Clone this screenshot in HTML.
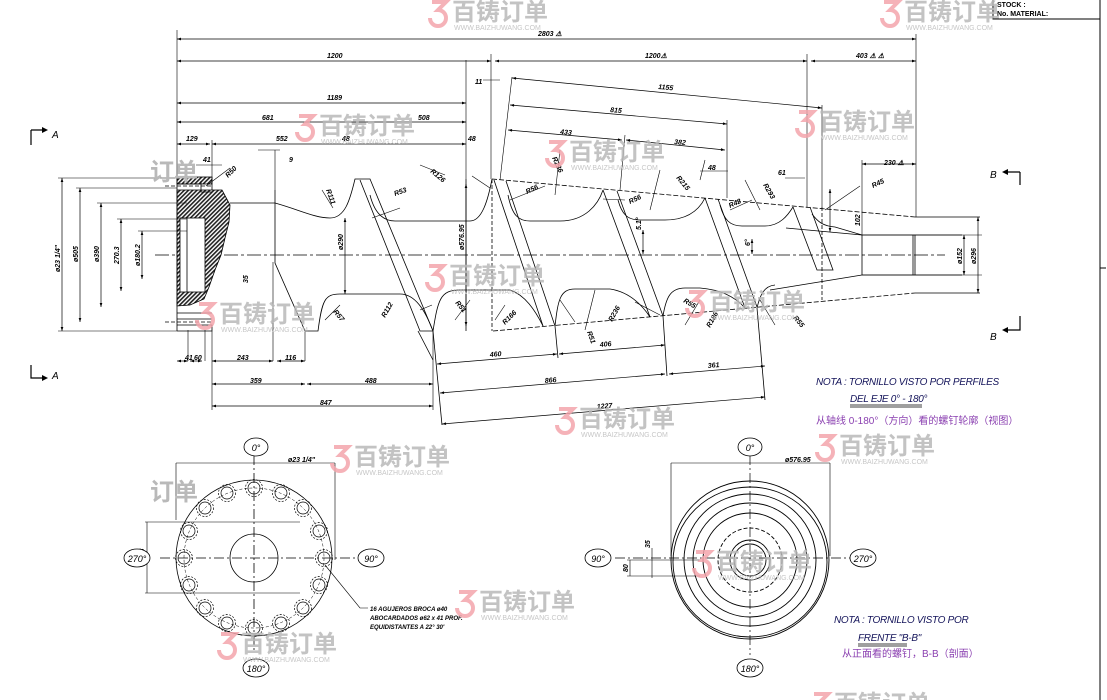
<!DOCTYPE html>
<html><head><meta charset="utf-8"><style>
html,body{margin:0;padding:0;background:#fff;width:1107px;height:700px;overflow:hidden}
svg{display:block}
.d{font-family:"Liberation Sans",sans-serif;font-size:7px;font-style:italic;font-weight:bold;fill:#000}
.n{font-family:"Liberation Sans",sans-serif;font-size:10px;font-style:italic;fill:#14145a;letter-spacing:-0.3px}
.cn{font-family:"Liberation Sans","Noto Sans CJK SC",sans-serif;font-size:10px;fill:#8a3fb0}
.wm{font-family:"Liberation Sans","Noto Sans CJK SC",sans-serif;font-size:24px;font-weight:bold;fill:#b9b9b9}
.wu{font-family:"Liberation Sans",sans-serif;font-size:7px;fill:#bdbdbd}
.lab{font-family:"Liberation Sans",sans-serif;font-size:10px;font-style:italic;fill:#000}
</style></head><body>
<svg width="1107" height="700" viewBox="0 0 1107 700" xmlns="http://www.w3.org/2000/svg">
<defs>
<pattern id="h" width="3" height="3" patternUnits="userSpaceOnUse" patternTransform="rotate(45)"><rect width="3" height="3" fill="#fff"/><rect width="1.6" height="3" fill="#222"/></pattern>
<marker id="a" markerWidth="6" markerHeight="4" refX="6" refY="2" orient="auto-start-reverse"><path d="M0,0L6,2L0,4z" fill="#000"/></marker>
<g id="w"><path d="M4,4 h14 l-8,8 a8,8 0 1 1 -8,8" fill="none" stroke="#f4a5ac" stroke-width="4"/><text class="wm" x="24" y="22">百铸订单</text><text class="wu" x="26" y="32">WWW.BAIZHUWANG.COM</text></g>
</defs>

<!-- title block -->
<g stroke="#000" stroke-width="1" fill="none"><path d="M993,0V19H1100M1100,0V700"/></g>
<text x="997" y="7" class="d" style="font-style:normal;font-size:7px">STOCK :</text>
<text x="997" y="16" class="d" style="font-style:normal;font-size:7px">No. MATERIAL:</text>
<path d="M1100,268h6" stroke="#000"/>

<g stroke="#000" stroke-width="0.8" fill="none">
<!-- centerline -->
<path d="M155,255H945" stroke-dasharray="14,3,3,3"/>
<!-- flange -->
<rect x="177" y="177" width="35" height="7" fill="url(#h)"/>
<path d="M177,190H222L230,205L229,222L225,238L221,255L215,270L209,287L204,299L190,305L177,306Z" fill="url(#h)"/>
<rect x="180" y="218" width="25" height="74" fill="#fff"/>
<path d="M177,177V331M212,177V190M201,181V192H212M187,218V292M177,325H212V331H177M177,184H200M177,313H212M177,319H212" />
<path d="M165,186H212M165,322H212" stroke-dasharray="4,2"/>
<!-- shaft outline top -->
<path d="M230,203H275C300,210 315,218 330,218C345,218 350,200 355,179H370L433,331"/>
<path d="M360,180L420,331H433"/>
<path d="M370,195C375,215 385,221 395,221H470C482,221 488,200 492,179"/>
<path d="M275,190V263L305,331H318C322,300 325,294 340,294H400C415,294 425,310 433,331"/>
<path d="M433,331C438,300 440,290 460,290H510C525,295 535,310 543,326"/>
<!-- flights -->
<path d="M494,180L543,326M506,181L555,326"/>
<path d="M603,190L650,317M617,191L663,316"/>
<path d="M705,198L745,308M718,199L757,307"/>
<path d="M793,207L817,270H833L810,207"/>
<!-- top roots -->
<path d="M508,195C512,215 518,221 530,221H560C585,221 598,205 603,190"/>
<path d="M618,200C622,215 628,220 640,220H665C690,220 700,208 705,198"/>
<path d="M720,205C724,220 730,226 742,226H765C780,226 788,215 793,207"/>
<path d="M812,214C818,222 823,226 835,227L862,235"/>
<path d="M786,228L862,235"/>
<path d="M862,275L770,290"/>
<!-- bottom roots -->
<path d="M555,326C558,300 560,289 575,289H610C630,292 642,305 650,317"/>
<path d="M663,316C666,298 670,288 685,288H700C725,290 738,300 745,308"/>
<path d="M757,308C760,295 764,286 775,285"/>
<!-- crest lines dashed -->
<path d="M492,179L915,217M493,331L915,293" stroke-dasharray="5,2"/>
<path d="M492,179V331M822,207V300" stroke-dasharray="4,2"/>
<path d="M466,179V331"/>
<!-- right shaft -->
<path d="M862,235V275M862,235H915V275H862M913,235V275M915,217H980M915,293H980M915,235H962M915,275H962"/>
<!-- flight helper small lines -->
<path d="M418,331L433,360M433,331L442,425M555,326L558,358M663,316L667,376M757,308L765,400"/>
</g>

<!-- dimension lines -->
<g stroke="#000" stroke-width="0.7" fill="none" marker-start="url(#a)" marker-end="url(#a)">
<path d="M177,39H916"/>
<path d="M177,61H491"/><path d="M495,61H807"/><path d="M811,61H916"/>
<path d="M177,103H466"/><path d="M177,122H466"/>
<path d="M177,144H210"/><path d="M212,144H466"/>
<path d="M62,178V331"/><path d="M80,188V322"/><path d="M101,203V307"/><path d="M121,219V291"/><path d="M142,231V279"/>
<path d="M177,361H188"/><path d="M190,361H202"/><path d="M212,361H273"/><path d="M277,361H305"/>
<path d="M212,384H305"/><path d="M307,384H433"/><path d="M212,406H433"/>
<path d="M437,364L557,354"/><path d="M559,354L665,345"/>
<path d="M440,393L665,374"/><path d="M669,374L765,366"/>
<path d="M442,424L765,397"/>
<path d="M512,78L822,108"/><path d="M510,105L727,124"/><path d="M508,130L622,140"/><path d="M626,140L725,150"/>
<path d="M466,184V326"/><path d="M345,218V294"/>
<path d="M643,230V254"/><path d="M752,239V254"/>
<path d="M964,235V275"/><path d="M978,217V293"/>
<path d="M862,164H916"/><path d="M830,189V232"/>
</g>
<g stroke="#000" stroke-width="0.6" fill="none">
<path d="M177,30V177M466,60V179M491,54V179M807,54V207M916,34V217M212,140V177M275,150V190"/>
<path d="M862,160V235M205,361V330M188,361V330M305,361V331M433,331V410M212,331V410M273,361V262"/>
<path d="M58,178H177M76,188H177M97,203H187M117,219H187M138,231H187M58,331H177"/>
<path d="M500,180L512,77M620,190L625,135M727,198L727,120M822,207L822,105"/>
<path d="M862,235H982M862,275H982"/>
<!-- radius leaders -->
<path d="M206,186L230,168M333,208L322,190M372,218L400,208M445,175L420,165M490,188L472,176M510,200L545,186M555,195L560,150M603,199L625,200M650,210L660,170M700,180L705,160M730,210L752,200M760,210L745,180M825,210L860,186M455,320L470,300M495,320L505,305M340,305L325,320M432,305L420,310M560,300L575,322M595,290L585,330M635,302L660,315M700,300L685,325M760,300L775,325"/>
<path d="M196,165H222M258,150H280M483,80H500M700,171H728M785,178H805"/>
<!-- A / B section markers -->
<path d="M31,130V145M31,130H42M31,365V378H42M1020,172V185M1008,172H1020M1020,316V330H1008" stroke-width="1.2"/>
</g>
<g fill="#000"><path d="M42,127L48,130L42,133z"/><path d="M42,375L48,378L42,381z"/><path d="M1008,169L1002,172L1008,175z"/><path d="M1008,327L1002,330L1008,333z"/></g>
<text class="lab" x="52" y="138">A</text><text class="lab" x="52" y="379">A</text>
<text class="lab" x="990" y="178">B</text><text class="lab" x="990" y="340">B</text>

<!-- dim labels -->
<text class="d" x="538" y="36">2803 ⚠</text>
<text class="d" x="327" y="58">1200</text><text class="d" x="645" y="58">1200⚠</text><text class="d" x="856" y="58">403 ⚠ ⚠</text>
<text class="d" x="475" y="84">11</text>
<text class="d" x="327" y="100">1189</text>
<text class="d" x="262" y="120">681</text><text class="d" x="418" y="120">508</text>
<text class="d" x="186" y="141">129</text><text class="d" x="276" y="141">552</text>
<text class="d" x="342" y="141">48</text><text class="d" x="468" y="141">48</text>
<text class="d" x="203" y="162">41</text><text class="d" x="289" y="162">9</text>
<text class="d" x="658" y="89" transform="rotate(5 658 89)">1155</text>
<text class="d" x="610" y="112" transform="rotate(5 610 112)">815</text>
<text class="d" x="560" y="134" transform="rotate(5 560 134)">433</text>
<text class="d" x="674" y="144" transform="rotate(5 674 144)">382</text>
<text class="d" x="708" y="170">48</text><text class="d" x="778" y="175">61</text>
<text class="d" x="884" y="165">230 ⚠</text>
<text class="d" x="185" y="360">41</text><text class="d" x="194" y="360">60</text>
<text class="d" x="237" y="360">243</text><text class="d" x="285" y="360">116</text>
<text class="d" x="250" y="383">359</text><text class="d" x="365" y="383">488</text><text class="d" x="320" y="405">847</text>
<text class="d" x="490" y="357" transform="rotate(-5 490 357)">460</text>
<text class="d" x="600" y="347" transform="rotate(-5 600 347)">406</text>
<text class="d" x="545" y="383" transform="rotate(-5 545 383)">866</text>
<text class="d" x="708" y="368" transform="rotate(-5 708 368)">361</text>
<text class="d" x="597" y="409" transform="rotate(-5 597 409)">1227</text>
<text class="d" x="60" y="272" transform="rotate(-90 60 272)">ø23 1/4"</text>
<text class="d" x="78" y="262" transform="rotate(-90 78 262)">ø505</text>
<text class="d" x="99" y="262" transform="rotate(-90 99 262)">ø390</text>
<text class="d" x="119" y="264" transform="rotate(-90 119 264)">270.3</text>
<text class="d" x="140" y="266" transform="rotate(-90 140 266)">ø180.2</text>
<text class="d" x="343" y="250" transform="rotate(-90 343 250)">ø290</text>
<text class="d" x="464" y="250" transform="rotate(-90 464 250)">ø576.95</text>
<text class="d" x="248" y="283" transform="rotate(-90 248 283)">35</text>
<text class="d" x="641" y="230" transform="rotate(-90 641 230)">5.1°</text>
<text class="d" x="750" y="246" transform="rotate(-90 750 246)">6°</text>
<text class="d" x="860" y="226" transform="rotate(-90 860 226)">102</text>
<text class="d" x="962" y="264" transform="rotate(-90 962 264)">ø152</text>
<text class="d" x="976" y="264" transform="rotate(-90 976 264)">ø296</text>
<text class="d" x="228" y="178" transform="rotate(-45 228 178)">R50</text>
<text class="d" x="326" y="190" transform="rotate(70 326 190)">R111</text>
<text class="d" x="395" y="196" transform="rotate(-20 395 196)">R53</text>
<text class="d" x="430" y="172" transform="rotate(40 430 172)">R126</text>
<text class="d" x="527" y="194" transform="rotate(-25 527 194)">R56</text>
<text class="d" x="552" y="158" transform="rotate(65 552 158)">R236</text>
<text class="d" x="630" y="204" transform="rotate(-25 630 204)">R56</text>
<text class="d" x="676" y="178" transform="rotate(50 676 178)">R215</text>
<text class="d" x="730" y="208" transform="rotate(-25 730 208)">R42</text>
<text class="d" x="763" y="185" transform="rotate(60 763 185)">R293</text>
<text class="d" x="873" y="188" transform="rotate(-25 873 188)">R45</text>
<text class="d" x="333" y="312" transform="rotate(50 333 312)">R57</text>
<text class="d" x="385" y="318" transform="rotate(-60 385 318)">R112</text>
<text class="d" x="455" y="303" transform="rotate(50 455 303)">R51</text>
<text class="d" x="505" y="325" transform="rotate(-45 505 325)">R166</text>
<text class="d" x="587" y="332" transform="rotate(70 587 332)">R51</text>
<text class="d" x="612" y="322" transform="rotate(-60 612 322)">R236</text>
<text class="d" x="683" y="302" transform="rotate(30 683 302)">R55</text>
<text class="d" x="710" y="328" transform="rotate(-60 710 328)">R186</text>
<text class="d" x="793" y="318" transform="rotate(50 793 318)">R55</text>

<!-- notes -->
<text class="n" x="816" y="385">NOTA :  TORNILLO VISTO POR PERFILES</text>
<text class="n" x="850" y="402">DEL EJE 0° - 180°</text>
<path d="M850,405H922M850,407H922" stroke="#000" stroke-width="0.7"/>
<text class="cn" x="816" y="424">从轴线 0-180°（方向）看的螺钉轮廓（视图）</text>
<text class="n" x="834" y="623">NOTA :  TORNILLO VISTO POR</text>
<text class="n" x="858" y="641">FRENTE "B-B"</text>
<path d="M858,644H907M858,646H907" stroke="#000" stroke-width="0.7"/>
<text class="cn" x="842" y="657">从正面看的螺钉，B-B（剖面）</text>

<!-- Left section view -->
<g stroke="#000" stroke-width="0.8" fill="none">
<circle cx="254" cy="558" r="78"/>
<circle cx="254" cy="558" r="24"/>
<path d="M254,455V650M160,558H360" stroke-dasharray="10,3,2,3"/>
<circle cx="254" cy="558" r="70" stroke-dasharray="3,2" stroke-width="0.5"/>
<path d="M176,463H335M176,463V520M335,463V560" stroke-width="0.6"/>
<path d="M145,522H300M145,593H300M147,522V593" stroke-width="0.6"/>
<path d="M325,565L360,608H368" stroke-width="0.6"/>
</g>
<g stroke="#000" stroke-width="0.7" fill="none">
<circle cx="324" cy="558" r="6"/><circle cx="324" cy="558" r="8.5" stroke-dasharray="2,1.5"/>
<circle cx="319" cy="531" r="6"/><circle cx="319" cy="531" r="8.5" stroke-dasharray="2,1.5"/>
<circle cx="303" cy="508" r="6"/><circle cx="303" cy="508" r="8.5" stroke-dasharray="2,1.5"/>
<circle cx="281" cy="493" r="6"/><circle cx="281" cy="493" r="8.5" stroke-dasharray="2,1.5"/>
<circle cx="254" cy="488" r="6"/><circle cx="254" cy="488" r="8.5" stroke-dasharray="2,1.5"/>
<circle cx="227" cy="493" r="6"/><circle cx="227" cy="493" r="8.5" stroke-dasharray="2,1.5"/>
<circle cx="205" cy="508" r="6"/><circle cx="205" cy="508" r="8.5" stroke-dasharray="2,1.5"/>
<circle cx="189" cy="531" r="6"/><circle cx="189" cy="531" r="8.5" stroke-dasharray="2,1.5"/>
<circle cx="184" cy="558" r="6"/><circle cx="184" cy="558" r="8.5" stroke-dasharray="2,1.5"/>
<circle cx="189" cy="585" r="6"/><circle cx="189" cy="585" r="8.5" stroke-dasharray="2,1.5"/>
<circle cx="205" cy="608" r="6"/><circle cx="205" cy="608" r="8.5" stroke-dasharray="2,1.5"/>
<circle cx="227" cy="623" r="6"/><circle cx="227" cy="623" r="8.5" stroke-dasharray="2,1.5"/>
<circle cx="254" cy="628" r="6"/><circle cx="254" cy="628" r="8.5" stroke-dasharray="2,1.5"/>
<circle cx="281" cy="623" r="6"/><circle cx="281" cy="623" r="8.5" stroke-dasharray="2,1.5"/>
<circle cx="303" cy="608" r="6"/><circle cx="303" cy="608" r="8.5" stroke-dasharray="2,1.5"/>
<circle cx="319" cy="585" r="6"/><circle cx="319" cy="585" r="8.5" stroke-dasharray="2,1.5"/>
</g>
<text class="d" x="288" y="462">ø23 1/4"</text>
<text class="d" x="144" y="566" transform="rotate(-90 144 566)">270.3</text>
<text class="d" x="370" y="611" style="font-size:6px">16 AGUJEROS BROCA ø40</text>
<text class="d" x="370" y="620" style="font-size:6px">ABOCARDADOS ø62 x 41 PROF.</text>
<text class="d" x="370" y="629" style="font-size:6px">EQUIDISTANTES A 22° 30'</text>

<!-- Right section view -->
<g stroke="#000" stroke-width="0.9" fill="none">
<circle cx="750" cy="560" r="79"/><ellipse cx="750" cy="562" rx="77" ry="75"/>
<circle cx="750" cy="560" r="66"/><circle cx="750" cy="560" r="57"/><circle cx="750" cy="560" r="47"/>
<circle cx="750" cy="560" r="32" stroke-dasharray="4,2"/>
<circle cx="750" cy="560" r="20"/><circle cx="750" cy="560" r="16"/>
<path d="M750,455V655M615,558H860" stroke-dasharray="10,3,2,3" stroke-width="0.7"/>
<path d="M671,463H830M671,463V556M830,463V556" stroke-width="0.6"/>
<path d="M627,560H700M627,576H700M652,548V578M630,560V576" stroke-width="0.6"/>
</g>
<text class="d" x="785" y="462">ø576.95</text>
<text class="d" x="650" y="548" transform="rotate(-90 650 548)">35</text>
<text class="d" x="628" y="572" transform="rotate(-90 628 572)">80</text>

<!-- degree ellipses -->
<g stroke="#000" stroke-width="0.8" fill="#fff">
<ellipse cx="256" cy="447" rx="12" ry="9"/><ellipse cx="256" cy="668" rx="13" ry="9"/>
<ellipse cx="137" cy="558" rx="13" ry="9"/><ellipse cx="371" cy="558" rx="13" ry="9"/>
<ellipse cx="750" cy="447" rx="12" ry="9"/><ellipse cx="750" cy="668" rx="13" ry="9"/>
<ellipse cx="598" cy="558" rx="13" ry="9"/><ellipse cx="863" cy="558" rx="13" ry="9"/>
</g>
<g class="lab" style="font-size:9px" text-anchor="middle">
<text x="256" y="451">0°</text><text x="256" y="672">180°</text><text x="137" y="562">270°</text><text x="371" y="562">90°</text>
<text x="750" y="451">0°</text><text x="750" y="672">180°</text><text x="598" y="562">90°</text><text x="863" y="562">270°</text>
</g>

<!-- watermarks -->
<g opacity="0.85">
<use href="#w" x="428" y="-2"/><use href="#w" x="880" y="-2"/>
<use href="#w" x="295" y="112"/><use href="#w" x="795" y="108"/>
<use href="#w" x="545" y="138"/><use href="#w" x="425" y="262"/>
<use href="#w" x="685" y="288"/><use href="#w" x="195" y="300"/>
<use href="#w" x="555" y="405"/><use href="#w" x="815" y="432"/>
<use href="#w" x="330" y="443"/><use href="#w" x="455" y="588"/>
<use href="#w" x="217" y="630"/><use href="#w" x="692" y="548"/>
<use href="#w" x="810" y="690"/>
</g>
<text class="wm" x="150" y="180">订单</text>
<text class="wm" x="150" y="500">订单</text>
</svg>
</body></html>
